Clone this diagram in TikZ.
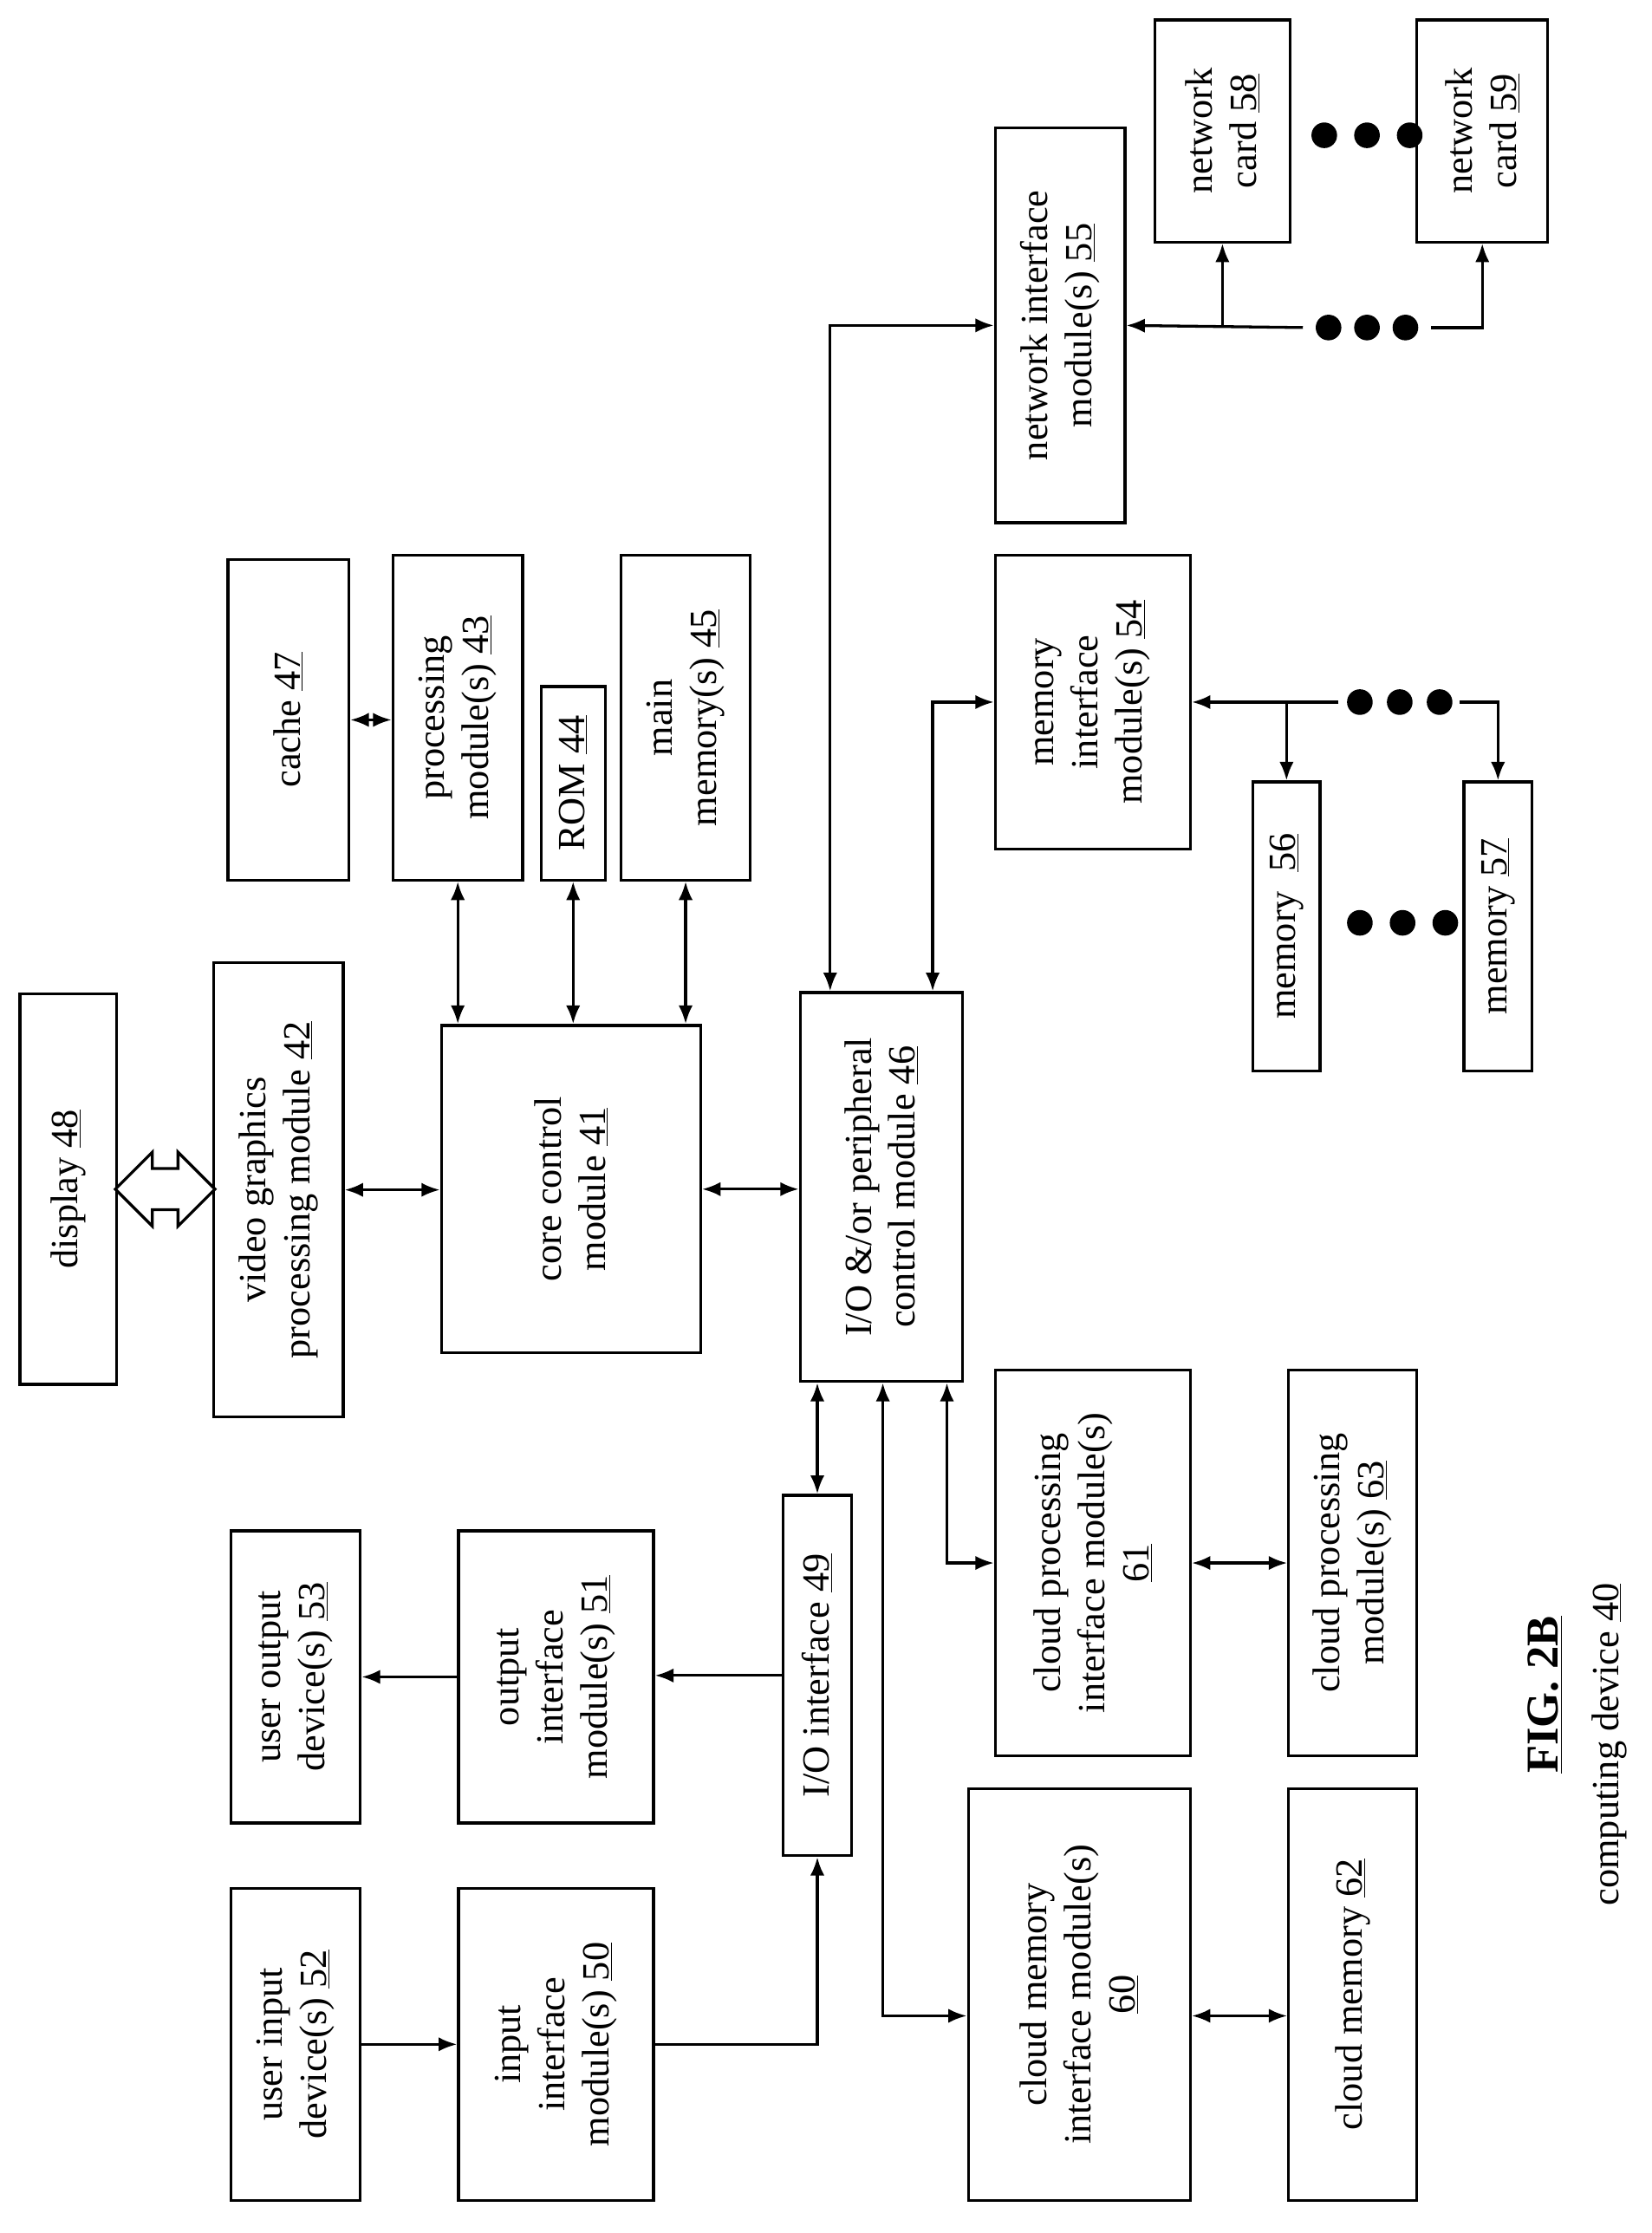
\documentclass[tikz,border=0pt]{standalone}
\usepackage{fontspec}
\setmainfont{Liberation Serif}
\usetikzlibrary{fit,shapes.arrows,arrows.meta}
\tikzset{
  box/.style={draw, line width=2pt, inner sep=0pt},
  txt/.style={rotate=90, align=center, font=\fontsize{27}{31}\selectfont},
  arr/.style={line width=2pt, {Latex[length=13pt,width=10pt]}-{Latex[length=13pt,width=10pt]}},
  ar/.style={line width=2pt, -{Latex[length=13pt,width=10pt]}},
  ln/.style={line width=2pt},
  dot/.style={circle, fill, inner sep=0pt, minimum size=18pt}
}
\newcommand{\blk}[6]{\node[box, fit={(#2,#3) (#4,#5)}, label={[txt]center:#6}] (#1) {};}
\begin{document}
\begin{tikzpicture}[x=1pt,y=-1pt]
\useasboundingbox[fill=white] (0,0) rectangle (1160,1568);
% blocks
\blk{disp}{14}{698}{82}{972}{display \underline{48}}
\blk{video}{150}{676}{241}{995}{video graphics\\processing module \underline{42}}
\blk{core}{310}{720}{492}{950}{core control\\module \underline{41}}
\blk{cache}{160}{393}{245}{618}{cache \underline{47}}
\blk{proc}{276}{390}{367}{618}{processing\\module(s) \underline{43}}
\blk{rom}{380}{482}{425}{618}{ROM \underline{44}}
\blk{mainmem}{436}{390}{527}{618}{main\\memory(s) \underline{45}}
\blk{io}{562}{697}{676}{970}{I/O \&/or peripheral\\control module \underline{46}}
\blk{netif}{699}{90}{790}{367}{network interface\\module(s) \underline{55}}
\blk{card58}{811}{14}{906}{170}{network\\card \underline{58}}
\blk{card59}{995}{14}{1087}{170}{network\\card \underline{59}}
\blk{memif}{699}{390}{836}{596}{memory\\interface\\module(s) \underline{54}}
\blk{mem56}{880}{549}{927}{752}{memory~ \underline{56}}
\blk{mem57}{1028}{549}{1076}{752}{memory \underline{57}}
\blk{cpif}{699}{962}{836}{1233}{cloud processing\\interface module(s)\\\underline{61}}
\blk{cproc}{905}{962}{995}{1233}{cloud processing\\module(s) \underline{63}}
\blk{cmif}{680}{1256}{836}{1545}{cloud memory\\interface module(s)\\\underline{60}}
\blk{cmem}{905}{1256}{995}{1545}{cloud memory \underline{62}}
\blk{ioif}{550}{1050}{598}{1303}{I/O interface \underline{49}}
\blk{outif}{322}{1075}{459}{1280}{output\\interface\\module(s) \underline{51}}
\blk{uout}{162}{1075}{253}{1280}{user output\\device(s) \underline{53}}
\blk{inif}{322}{1326}{459}{1545}{input\\interface\\module(s) \underline{50}}
\blk{uin}{162}{1326}{253}{1545}{user input\\device(s) \underline{52}}
% display link
\node[double arrow, draw, line width=2pt, fill=white, minimum height=70pt, minimum width=52pt,
  double arrow head extend=4pt, inner sep=4pt] (dlink) at (116,835) {};
% connectors
\draw[arr] (video.east) -- (video.east -| core.west);
\draw[arr] (core.east) -- (core.east -| io.west);
\draw[arr] (proc.south) -- (proc.south |- core.north);
\draw[arr] (rom.south) -- (rom.south |- core.north);
\draw[arr] (mainmem.south) -- (mainmem.south |- core.north);
\draw[arr] (cache.east) -- (cache.east -| proc.west);
\draw[arr] ([xshift=-36pt]io.north) |- (netif.west);
\draw[arr] ([xshift=36pt]io.north) |- (memif.west);
\draw[arr] ([xshift=46pt]io.south) |- (cpif.west);
\draw[arr] ([xshift=1pt]io.south) |- ([yshift=-15pt]cmif.west);
\draw[arr] (ioif.north |- io.south) -- (ioif.north);
\draw[arr] (cpif.east) -- (cpif.east -| cproc.west);
\draw[arr] ([yshift=-15pt]cmif.east) -- ([yshift=-15pt]cmif.east -| cmem.west);
\draw[ar] (ioif.west) -- (ioif.west -| outif.east);
\draw[ar] (outif.west) -- (outif.west -| uout.east);
\draw[ar] (inif.east) -| (ioif.south);
\draw[ar] (uin.east) -- (uin.east -| inif.west);
% memory bus
\coordinate (ma) at (940,493);
\coordinate (mb) at (1025,493);
\draw[ar] (ma) -- (memif.east);
\draw[ar] (mb) -| (mem57.north);
\draw[ar] (mem56.north |- memif.east) -- (mem56.north);
\foreach \x [count=\i] in {955,983,1011} \node[dot] (md\i) at (\x,493) {};
\foreach \x [count=\i] in {955,985,1015} \node[dot] (mm\i) at (\x,648) {};
% network bus
\coordinate (na) at (915,230);
\coordinate (nb) at (1005,230);
\draw[ar] (na) -- (netif.east);
\draw[ar] (nb) -| (card59.south);
\draw[ar] (card58.south |- netif.east) -- (card58.south);
\foreach \x [count=\i] in {933,960,987} \node[dot] (nd\i) at (\x,230) {};
\foreach \x [count=\i] in {930,960,990} \node[dot] (nc\i) at (\x,95) {};
% caption
\node[rotate=90, font=\fontsize{32}{36}\selectfont\bfseries] (fig) at (1085,1190) {\underline{FIG. 2B}};
\node[rotate=90, font=\fontsize{27}{31}\selectfont] (cap) at (1130,1225) {computing device \underline{40}};
\end{tikzpicture}
\end{document}
